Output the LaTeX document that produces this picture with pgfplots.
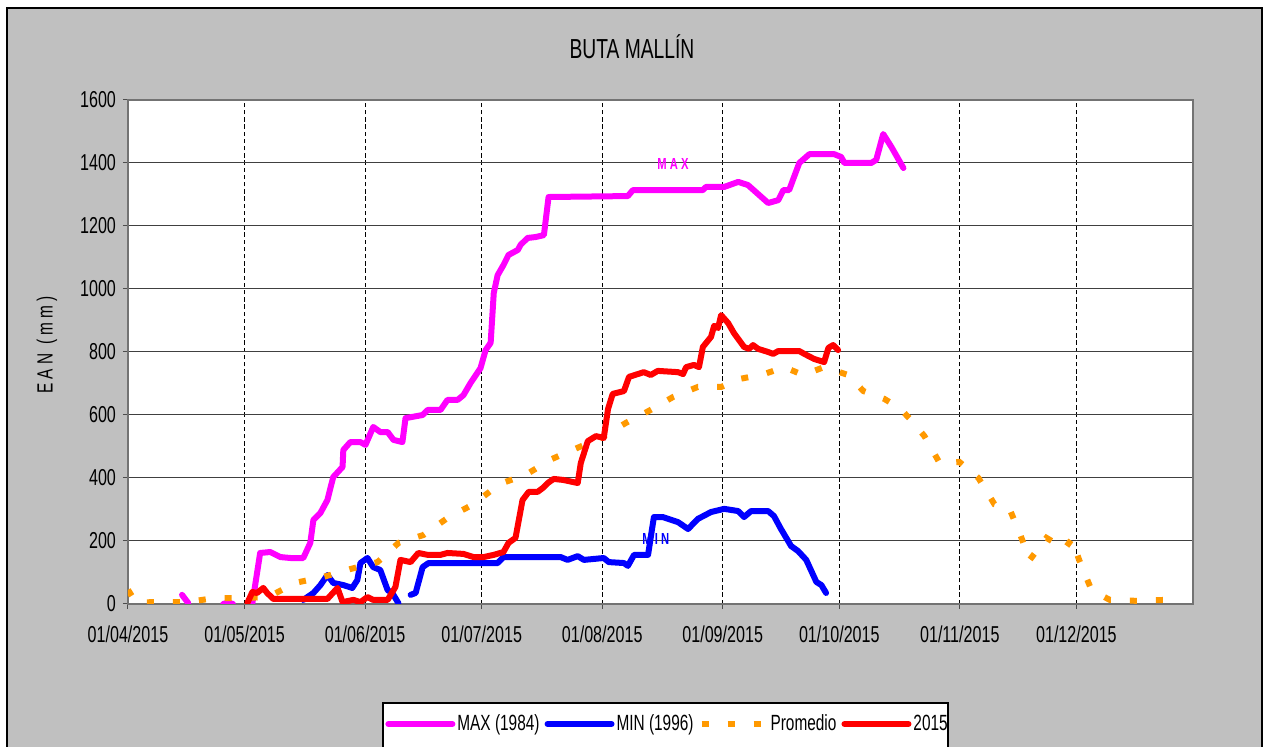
\documentclass[border=0pt]{standalone}
\usepackage{fontspec}
\setmainfont{Liberation Sans}[FakeStretch=0.70]
\usepackage{pgfplots}
\pgfplotsset{compat=1.18}
\definecolor{bgray}{RGB}{192,192,192}
\definecolor{maxc}{RGB}{255,0,255}
\definecolor{minc}{RGB}{0,0,255}
\definecolor{promc}{RGB}{255,153,0}
\definecolor{curc}{RGB}{255,0,0}

\begin{document}
\begin{tikzpicture}
% page frame, pixel units (top-left origin)
\begin{scope}[x=0.5pt,y=-0.5pt]
\useasboundingbox (0,0) rectangle (1264,747);
\fill[white] (0,0) rectangle (1264,747);
\clip (0,0) rectangle (1264,747);
\filldraw[fill=bgray,draw=black,line width=0.8pt] (7,8) rectangle (1262,790);
\node[font=\fontsize{13.75}{16}\selectfont] at (632,47) {BUTA MALLÍN};
\node[rotate=90,font=\fontsize{11}{13}\selectfont] at (47,345) {E A N \ ( m m )};
\filldraw[fill=white,draw=black,line width=0.6pt] (383,703) rectangle (948,790);
\end{scope}

\begin{axis}[
  at={(64pt,-302pt)}, anchor=south west,
  width=532.5pt, height=252pt, scale only axis,
  xmin=0, xmax=274, ymin=0, ymax=1600,
  axis background/.style={fill=white},
  axis line style={black!55,line width=0.6pt},
  xtick={0,30,61,91,122,153,183,214,244},
  xticklabels={01/04/2015,01/05/2015,01/06/2015,01/07/2015,01/08/2015,01/09/2015,01/10/2015,01/11/2015,01/12/2015},
  ytick={0,200,...,1600},
  tick pos=left, tick align=outside,
  major tick length=2.5pt,
  tick style={black!70,line width=0.5pt},
  xmajorgrids, ymajorgrids,
  x grid style={black,line width=0.5pt,dash pattern=on 2.2pt off 1.4pt},
  y grid style={black!75,line width=0.5pt},
  /pgf/number format/assume math mode=true,
  /pgf/number format/1000 sep={},
  ticklabel style={font=\fontsize{11.5}{13}\selectfont},
  xticklabel style={yshift=-5pt},
  unbounded coords=jump,
  legend columns=4,
  legend cell align=left,
  legend image code/.code={\draw[#1] (0pt,0pt) -- (32pt,0pt);},
  legend style={at={(0.2413,-0.238)}, anchor=west, draw=none, fill=none,
    inner sep=0pt, font=\fontsize{11}{13}\selectfont,
    nodes={inner xsep=1pt},
    /tikz/every even column/.append style={column sep=1.5pt}},
]
% data label MAX
\addplot[draw=none,forget plot] coordinates {(140.2,1397)}
  node[text=maxc,font=\bfseries\fontsize{8}{9}\selectfont] {M A X};

\addplot[maxc,line width=3pt,line cap=round,line join=round] coordinates {
(13.9,29)(15.5,3) (16,nan)
(24.5,0)(25.8,5)(27,0) (28,nan)
(31.5,0)(32.0,3)(34.0,162)(36.6,165)(39.2,149)(41.8,146)(45.1,146)(46.9,194)
(47.7,267)(49.5,289)(51.3,330)(52.8,403)(55.2,435)(55.4,489)(57.2,514)(59.8,514)
(61.1,505)(63.1,562)(64.9,546)(66.8,546)(68.3,521)(70.6,514)(71.4,590)(75.8,600)
(77.1,616)(80.4,616)(82.2,648)(84.8,648)(86.3,663)(88.1,701)(90.7,749)(92.0,806)
(93.3,829)(94.1,987)(95.1,1044)(96.6,1076)(97.9,1108)(100.3,1124)(101.0,1140)
(102.8,1162)(104.9,1165)(107.0,1171)(108.2,1292)(128.6,1295)(129.9,1314)
(147.9,1314)(148.7,1324)(153.4,1324)(157.0,1340)(159.5,1330)(164.7,1273)
(167.3,1282)(168.6,1314)(170.1,1314)(172.7,1400)(175.3,1428)(181.7,1428)
(183.5,1419)(184.3,1400)(191.2,1400)(192.5,1410)(194.3,1492)(196.4,1451)(199.5,1384)
};
\addlegendentry{MAX (1984)}

% data label MIN (partly under the line)
\addplot[draw=none,forget plot] coordinates {(135.8,206)}
  node[text=minc,font=\bfseries\fontsize{8}{9}\selectfont] {M I N};

\addplot[minc,line width=3pt,line cap=round,line join=round] coordinates {
(45.1,13)(47.7,35)(49.5,60)(51.3,92)(52.8,67)(55.4,60)(57.7,51)(59.0,76)(59.8,130)
(61.6,146)(63.1,117)(64.9,108)(66.8,44)(68.0,35)(69.6,2) (71,nan)
(72.7,29)(74.0,35)(75.8,117)(77.3,130)(95.1,130)(96.6,149)(111.3,149)(113.1,140)
(115.7,152)(117.3,140)(122.4,146)(123.7,133)(127.6,130)(128.6,121)(130.2,156)
(133.8,156)(135.3,276)(137.6,276)(141.5,260)(144.1,238)(146.6,270)(150.0,292)
(153.4,302)(157.0,295)(158.5,276)(160.3,295)(164.7,295)(166.2,279)(168.0,238)
(170.6,184)(172.4,168)(174.5,140)(177.1,70)(178.4,60)(179.6,35)
};
\addlegendentry{MIN (1996)}

\addplot[promc,line width=3pt,line cap=butt,dash pattern=on 3.5pt off 9.5pt] coordinates {
(0,45)(2,5)(8.2,6)(15.2,6)(22.4,19)(28.9,19)(36.1,22)(43.0,67)(50.3,86)(57.2,111)
(64.2,133)(69.6,194)(76.0,219)(82.2,273)(88.9,317)(95.6,381)(102.3,410)(109.0,460)
(115.5,495)(121.6,527)(128.1,575)(134.0,613)(140.2,657)(146.6,689)(152.6,689)
(157.2,714)(163.7,730)(168.8,752)(173.7,727)(179.1,752)(185.3,727)(189.2,676)
(194.6,651)(198.5,622)(201.0,590)(204.9,533)(208.8,448)(213.9,451)(218.8,400)
(222.9,317)(226.8,302)(229.4,225)(232.0,140)(236.3,210)(241.0,175)(242.8,206)
(244.8,137)(247.9,44)(252.6,13)(259.5,10)(266.8,13)
};
\addlegendentry{Promedio}

\addplot[curc,line width=3pt,line cap=round,line join=round] coordinates {
(30.7,3)(32.0,38)(33.2,35)(34.8,51)(35.8,35)(37.4,16)(51.3,16)(53.9,51)(55.2,6)
(58.0,13)(59.8,6)(61.6,22)(63.1,13)(66.8,13)(68.8,54)(70.1,140)(72.7,133)(74.7,162)
(77.1,156)(80.4,156)(82.2,162)(86.3,159)(88.9,149)(91.5,149)(94.1,156)(96.6,165)
(97.9,194)(99.7,210)(101.5,330)(103.1,356)(105.4,356)(106.7,368)(108.0,384)
(109.5,397)(111.9,394)(115.7,384)(116.5,448)(118.3,517)(120.4,533)(122.4,527)
(123.5,619)(124.7,667)(127.6,676)(128.9,721)(132.7,736)(134.5,727)(136.3,740)
(141.5,736)(142.8,730)(143.6,752)(145.6,759)(146.9,752)(147.9,816)(150.0,848)
(150.8,883)(151.8,876)(152.6,917)(154.4,892)(155.9,860)(158.5,816)(159.8,810)
(160.8,822)(162.1,810)(164.7,800)(166.0,794)(167.3,803)(172.7,803)(174.0,794)
(176.5,778)(179.1,768)(180.2,813)(181.4,822)(182.7,806)
};
\addlegendentry{2015}
\end{axis}
\end{tikzpicture}
\end{document}
